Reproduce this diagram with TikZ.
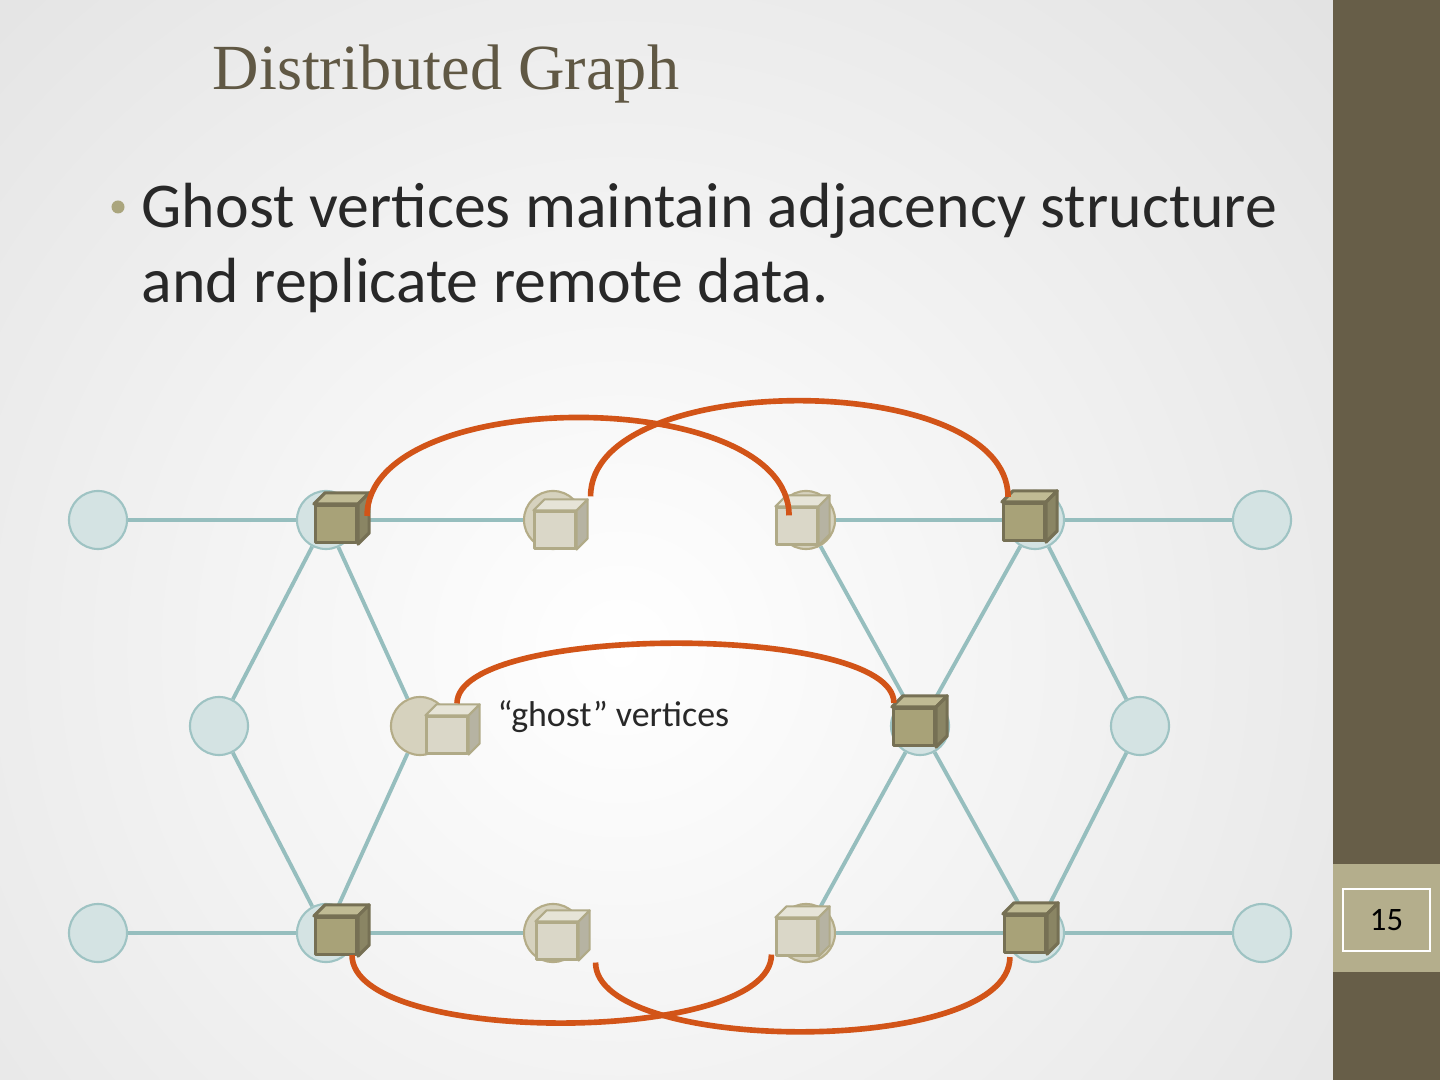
\documentclass[tikz,border=0pt]{standalone}
\usepackage{fontspec}
\setmainfont{Carlito}
\newfontfamily\titlefont{Liberation Serif}
\usepackage{xcolor}
\usepackage{tikz}
\definecolor{sidebar}{RGB}{103,94,72}
\definecolor{pageband}{RGB}{180,174,140}
\definecolor{titlecol}{RGB}{96,88,68}
\definecolor{bodytext}{RGB}{40,40,40}
\definecolor{bulletcol}{RGB}{170,165,125}
\definecolor{vertfill}{RGB}{212,227,227}
\definecolor{vertedge}{RGB}{158,195,195}
\definecolor{ghostfill}{RGB}{214,210,190}
\definecolor{ghostedge}{RGB}{180,172,135}
\definecolor{linkcol}{RGB}{150,190,190}
\definecolor{ownfront}{RGB}{168,162,120}
\definecolor{owntopc}{RGB}{192,187,148}
\definecolor{ownsidec}{RGB}{138,133,100}
\definecolor{owndraw}{RGB}{118,112,84}
\definecolor{ghfront}{RGB}{218,215,200}
\definecolor{ghtopc}{RGB}{230,228,215}
\definecolor{ghsidec}{RGB}{182,179,162}
\definecolor{ghdraw}{RGB}{176,170,135}
\definecolor{syncorange}{RGB}{210,84,24}

\begin{document}
\begin{tikzpicture}[x=0.01cm,y=-0.01cm,
    vert/.style={circle,draw=vertedge,fill=vertfill,line width=0.6pt,minimum size=0.58cm,inner sep=0pt},
    ghostvert/.style={vert,draw=ghostedge,fill=ghostfill},
    link/.style={draw=linkcol,line width=1.1pt},
    owncube/.style={rectangle,draw=owndraw,fill=ownfront,line width=0.9pt,line join=round,minimum width=0.41cm,minimum height=0.37cm,inner sep=0pt},
    ghostcube/.style={owncube,draw=ghdraw,fill=ghfront,line width=0.6pt},
    owntop/.style={draw=owndraw,fill=owntopc,line width=0.9pt,line join=round},
    ownside/.style={draw=owndraw,fill=ownsidec,line width=0.9pt,line join=round},
    ghosttop/.style={draw=ghdraw,fill=ghtopc,line width=0.6pt,line join=round},
    ghostside/.style={draw=ghdraw,fill=ghsidec,line width=0.6pt,line join=round},
    sync/.style={draw=syncorange,line width=1.6pt}
  ]
    \useasboundingbox (0,0) rectangle (1440,1080);
    \begin{scope}
      \clip (0,0) rectangle (1333,1080);
      \shade[inner color=white,outer color=black!15] (620,650) circle (13cm);
    \end{scope}
    \fill[sidebar] (1333,0) rectangle (1440,1080);
    \fill[pageband] (1333,864) rectangle (1440,972);
    \node[draw=white,line width=0.7pt,minimum width=0.87cm,minimum height=0.62cm,inner sep=0pt,font=\fontsize{9.3}{11}\selectfont] (pagenum) at (1386.5,920) {15};

    \node[anchor=base west,inner sep=0pt,text=titlecol,font=\titlefont\fontsize{18.3}{22}\selectfont] (title) at (212,90) {Distributed Graph};
    \node[circle,fill=bulletcol,minimum size=0.13cm,inner sep=0pt] (dot) at (118,207) {};
    \node[anchor=base west,inner sep=0pt,text=bodytext,font=\fontsize{18.15}{21.3}\selectfont] (bodyA) at (141,228) {Ghost vertices maintain adjacency structure};
    \node[anchor=base west,inner sep=0pt,text=bodytext,font=\fontsize{18.15}{21.3}\selectfont] (bodyB) at (141,303) {and replicate remote data.};

    \node[vert] (t1) at (98,520) {};
    \node[vert] (t2) at (326,520) {};
    \node[ghostvert] (t3) at (553,520) {};
    \node[ghostvert] (t4) at (806,520) {};
    \node[vert] (t5) at (1035,520) {};
    \node[vert] (t6) at (1262,520) {};
    \node[vert] (m1) at (219,726) {};
    \node[ghostvert] (m2) at (420,726) {};
    \node[vert] (m3) at (920,726) {};
    \node[vert] (m4) at (1140,726) {};
    \node[vert] (b1) at (98,933) {};
    \node[vert] (b2) at (326,933) {};
    \node[ghostvert] (b3) at (553,933) {};
    \node[ghostvert] (b4) at (806,933) {};
    \node[vert] (b5) at (1035,933) {};
    \node[vert] (b6) at (1262,933) {};

    \draw[link] (t1) -- (t2);
    \draw[link] (t2) -- (t3);
    \draw[link] (t4) -- (t5);
    \draw[link] (t5) -- (t6);
    \draw[link] (b1) -- (b2);
    \draw[link] (b2) -- (b3);
    \draw[link] (b4) -- (b5);
    \draw[link] (b5) -- (b6);
    \draw[link] (t2) -- (m1);
    \draw[link] (t2) -- (m2);
    \draw[link] (m1) -- (b2);
    \draw[link] (m2) -- (b2);
    \draw[link] (t4) -- (m3);
    \draw[link] (t5) -- (m3);
    \draw[link] (t5) -- (m4);
    \draw[link] (m3) -- (b4);
    \draw[link] (m3) -- (b5);
    \draw[link] (m4) -- (b5);

    \node[owncube] (cT2) at (336,524) {};
    \node[ghostcube] (cT3) at (555,530) {};
    \node[ghostcube] (cT4) at (797,526) {};
    \node[owncube] (cT5) at (1024,522) {};
    \node[ghostcube] (cM2) at (447,735) {};
    \node[owncube] (cM3) at (914,727) {};
    \node[owncube] (cB2) at (336,936) {};
    \node[ghostcube] (cB3) at (557,941) {};
    \node[ghostcube] (cB4) at (797,937) {};
    \node[owncube] (cB5) at (1025,934) {};
    \foreach \c in {cT2,cT5,cM3,cB2,cB5} {
      \draw[owntop] (\c.north west) -- ++(11,-11) -- ([shift={(11,-11)}]\c.north east) -- (\c.north east) -- cycle;
      \draw[ownside] (\c.north east) -- ++(11,-11) -- ([shift={(11,-11)}]\c.south east) -- (\c.south east) -- cycle;
    }
    \foreach \c in {cT3,cT4,cM2,cB3,cB4} {
      \draw[ghosttop] (\c.north west) -- ++(11,-11) -- ([shift={(11,-11)}]\c.north east) -- (\c.north east) -- cycle;
      \draw[ghostside] (\c.north east) -- ++(11,-11) -- ([shift={(11,-11)}]\c.south east) -- (\c.south east) -- cycle;
    }

    \draw[sync] ([shift={(9,-8)}]cT2.east) .. controls +(0,-131) and +(0,-131) .. ([shift={(-8,9)}]cT4.north);
    \draw[sync] ([shift={(14,-14)}]cT3.north east) .. controls +(0,-128) and +(0,-128) .. ([shift={(-16,-5)}]cT5.north);
    \draw[sync] ([shift={(10,-12)}]cM2.north) .. controls +(0,-80) and +(0,-80) .. ([shift={(2,-4)}]cM3.north west);
    \draw[sync] ([shift={(16,-1)}]cB2.south) .. controls +(0,91) and +(0,91) .. ([shift={(-4,-2)}]cB4.south west);
    \draw[sync] ([shift={(17,2)}]cB3.south east) .. controls +(0,92) and +(0,100) .. ([shift={(7,3)}]cB5.south west);

    \node[anchor=base west,inner sep=0pt,text=bodytext,font=\fontsize{10.2}{12}\selectfont] (ghostlbl) at (497,727) {“ghost” vertices};
  \end{tikzpicture}
\end{document}
